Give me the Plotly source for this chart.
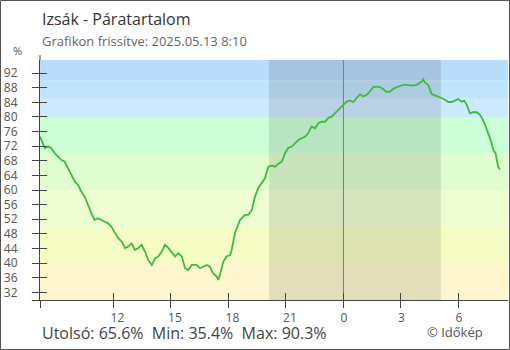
import plotly.graph_objects as go

# ---------------- data ----------------
times = [
    "2025-05-12 08:10", "2025-05-12 08:19", "2025-05-12 08:25", "2025-05-12 08:35", "2025-05-12 08:45",
    "2025-05-12 08:56", "2025-05-12 09:06", "2025-05-12 09:17", "2025-05-12 09:27", "2025-05-12 09:38",
    "2025-05-12 09:48", "2025-05-12 09:59", "2025-05-12 10:09", "2025-05-12 10:19", "2025-05-12 10:30",
    "2025-05-12 10:40", "2025-05-12 10:51", "2025-05-12 11:01", "2025-05-12 11:12", "2025-05-12 11:22",
    "2025-05-12 11:32", "2025-05-12 11:43", "2025-05-12 11:53", "2025-05-12 12:05", "2025-05-12 12:15",
    "2025-05-12 12:26", "2025-05-12 12:36", "2025-05-12 12:46", "2025-05-12 12:57", "2025-05-12 13:07",
    "2025-05-12 13:18", "2025-05-12 13:28", "2025-05-12 13:39", "2025-05-12 13:49", "2025-05-12 14:00",
    "2025-05-12 14:10", "2025-05-12 14:20", "2025-05-12 14:31", "2025-05-12 14:41", "2025-05-12 14:52",
    "2025-05-12 15:02", "2025-05-12 15:13", "2025-05-12 15:23", "2025-05-12 15:34", "2025-05-12 15:44",
    "2025-05-12 15:54", "2025-05-12 16:05", "2025-05-12 16:20", "2025-05-12 16:31", "2025-05-12 16:41",
    "2025-05-12 16:52", "2025-05-12 17:02", "2025-05-12 17:12", "2025-05-12 17:23", "2025-05-12 17:28",
    "2025-05-12 17:33", "2025-05-12 17:39", "2025-05-12 17:44", "2025-05-12 17:54", "2025-05-12 18:05",
    "2025-05-12 18:10", "2025-05-12 18:15", "2025-05-12 18:20", "2025-05-12 18:26", "2025-05-12 18:36",
    "2025-05-12 18:46", "2025-05-12 18:52", "2025-05-12 19:02", "2025-05-12 19:13", "2025-05-12 19:23",
    "2025-05-12 19:33", "2025-05-12 19:44", "2025-05-12 19:54", "2025-05-12 20:00", "2025-05-12 20:05",
    "2025-05-12 20:15", "2025-05-12 20:26", "2025-05-12 20:36", "2025-05-12 20:47", "2025-05-12 20:57",
    "2025-05-12 21:07", "2025-05-12 21:18", "2025-05-12 21:28", "2025-05-12 21:39", "2025-05-12 21:49",
    "2025-05-12 22:00", "2025-05-12 22:10", "2025-05-12 22:20", "2025-05-12 22:31", "2025-05-12 22:41",
    "2025-05-12 22:52", "2025-05-12 23:02", "2025-05-12 23:12", "2025-05-12 23:23", "2025-05-12 23:33",
    "2025-05-12 23:44", "2025-05-12 23:54", "2025-05-13 00:05", "2025-05-13 00:10", "2025-05-13 00:20",
    "2025-05-13 00:31", "2025-05-13 00:41", "2025-05-13 00:52", "2025-05-13 01:02", "2025-05-13 01:13",
    "2025-05-13 01:23", "2025-05-13 01:33", "2025-05-13 01:44", "2025-05-13 01:54", "2025-05-13 02:05",
    "2025-05-13 02:15", "2025-05-13 02:26", "2025-05-13 02:36", "2025-05-13 02:47", "2025-05-13 02:57",
    "2025-05-13 03:07", "2025-05-13 03:18", "2025-05-13 03:28", "2025-05-13 03:38", "2025-05-13 03:49",
    "2025-05-13 03:59", "2025-05-13 04:05", "2025-05-13 04:10", "2025-05-13 04:15", "2025-05-13 04:25",
    "2025-05-13 04:31", "2025-05-13 04:36", "2025-05-13 04:46", "2025-05-13 04:57", "2025-05-13 05:07",
    "2025-05-13 05:18", "2025-05-13 05:28", "2025-05-13 05:39", "2025-05-13 05:49", "2025-05-13 05:59",
    "2025-05-13 06:10", "2025-05-13 06:18", "2025-05-13 06:26", "2025-05-13 06:31", "2025-05-13 06:36",
    "2025-05-13 06:46", "2025-05-13 06:57", "2025-05-13 07:07", "2025-05-13 07:14", "2025-05-13 07:21",
    "2025-05-13 07:28", "2025-05-13 07:35", "2025-05-13 07:42", "2025-05-13 07:49", "2025-05-13 07:56",
    "2025-05-13 07:59", "2025-05-13 08:04", "2025-05-13 08:10",
]
humidity = [
    74.6, 72.8, 71.5, 71.9, 71.5, 70.1, 69.2, 68.2, 67.8, 66.0,
    64.1, 62.3, 61.4, 59.6, 58.2, 55.9, 53.6, 51.8, 52.3, 51.8,
    51.3, 50.9, 50.0, 48.2, 46.8, 45.9, 44.1, 44.5, 45.4, 43.6,
    44.1, 45.0, 43.1, 40.8, 39.5, 41.3, 41.8, 43.1, 45.0, 44.1,
    43.1, 41.8, 42.7, 41.8, 38.6, 38.1, 39.5, 39.5, 38.6, 39.0,
    39.5, 39.0, 37.2, 36.3, 35.4, 36.7, 39.0, 40.4, 41.8, 42.2,
    43.6, 46.3, 48.2, 49.5, 51.8, 52.7, 53.2, 53.2, 54.5, 58.2,
    60.5, 61.9, 63.2, 65.0, 66.4, 66.7, 66.4, 67.2, 67.8, 70.1,
    71.5, 71.9, 72.8, 73.7, 74.2, 74.6, 75.6, 77.4, 76.9, 78.3,
    78.7, 78.7, 79.7, 80.1, 81.0, 81.9, 82.8, 83.8, 84.2, 84.5,
    84.1, 85.2, 86.2, 85.6, 86.1, 87.0, 88.2, 88.3, 88.2, 87.6,
    86.8, 87.0, 87.7, 88.2, 88.5, 88.8, 88.8, 88.6, 88.6, 88.8,
    89.3, 89.7, 90.3, 89.4, 88.8, 87.4, 86.3, 85.9, 85.6, 85.2,
    84.7, 84.1, 84.1, 84.4, 84.9, 84.2, 84.5, 83.3, 81.9, 81.0,
    81.3, 81.3, 80.6, 79.7, 78.3, 76.9, 75.1, 73.3, 71.0, 70.1,
    68.7, 66.4, 65.6,
]

y_tick_values = [32, 36, 40, 44, 48, 52, 56, 60, 64, 68, 72, 76, 80, 84, 88, 92]
x_tick_values = ["2025-05-12 12:00", "2025-05-12 15:00", "2025-05-12 18:00", "2025-05-12 21:00",
                 "2025-05-13 00:00", "2025-05-13 03:00", "2025-05-13 06:00"]
x_tick_labels = ["12", "15", "18", "21", "0", "3", "6"]

band_edges = [29.9, 40, 50, 60, 70, 80, 85, 90, 95.6]
band_colors = ["#fdf6cf", "#f5fcc4", "#effdd2", "#e0fdd0", "#ccffd8", "#cde9fe", "#bfe4fd", "#b9dbfc"]

sunset = "2025-05-12 20:07"
sunrise = "2025-05-13 05:05"
midnight = "2025-05-13 00:00"
x_start = "2025-05-12 08:10"
x_end = "2025-05-13 08:35"

title = "Izsák - Páratartalom"
subtitle = "Grafikon frissítve: 2025.05.13 8:10"
stats = "Utolsó: 65.6%  Min: 35.4%  Max: 90.3%"
credit = "© Időkép"

# ---------------- layout geometry ----------------
W, H = 510, 350
ML, MR, MT, MB = 40, 2, 60, 50
PW, PH = W - ML - MR, H - MT - MB
FONT = "Open Sans, Noto Sans, DejaVu Sans, sans-serif"


def px(x):
    return (x - ML) / PW


def py(y):
    return (H - MB - y) / PH


fig = go.Figure()
fig.add_trace(go.Scatter(
    x=times, y=humidity, mode="lines",
    line=dict(color="#3dbb3d", width=1.8),
    hoverinfo="skip", showlegend=False,
))
# invisible trace so the overlay axes (inner tick halves) are drawn
fig.add_trace(go.Scatter(
    x=[times[0]], y=[humidity[0]], mode="markers", xaxis="x2", yaxis="y2",
    marker=dict(opacity=0), hoverinfo="skip", showlegend=False,
))

shapes = []
for i, c in enumerate(band_colors):
    shapes.append(dict(type="rect", xref="paper", yref="y", x0=0, x1=1,
                       y0=band_edges[i], y1=band_edges[i + 1],
                       fillcolor=c, line=dict(width=0), layer="below"))
shapes.append(dict(type="rect", xref="x", yref="paper", x0=sunset, x1=sunrise, y0=0, y1=1,
                   fillcolor="rgba(0,0,0,0.10)", line=dict(width=0), layer="below"))
shapes.append(dict(type="line", xref="x", yref="paper", x0=midnight, x1=midnight, y0=0, y1=1,
                   line=dict(color="#3a8fd4", width=1), layer="below"))
# y axis line stub above the plot area
shapes.append(dict(type="line", xref="paper", yref="paper", x0=0, x1=0, y0=1, y1=py(55),
                   line=dict(color="#444444", width=1)))
# outer image border
shapes.append(dict(type="rect", xref="paper", yref="paper",
                   x0=px(0.5), x1=px(W - 0.5), y0=py(H - 0.5), y1=py(0.5),
                   line=dict(color="#555555", width=1), fillcolor="rgba(0,0,0,0)"))

x_ticks_all = [x_start] + x_tick_values
x_text_all = [""] + [t if len(t) == 2 else t + "\u2007" for t in x_tick_labels]
y_ticks_all = [band_edges[0]] + y_tick_values
y_text_all = [""] + [str(v) for v in y_tick_values]

axis_common = dict(showgrid=False, zeroline=False, tickcolor="#444444", tickwidth=1, automargin=False)

fig.update_layout(
    width=W, height=H,
    margin=dict(l=ML, r=MR, t=MT, b=MB, pad=0, autoexpand=False),
    paper_bgcolor="white", plot_bgcolor="white",
    font=dict(family=FONT, color="#555555", size=12),
    showlegend=False,
    xaxis=dict(type="date", range=[x_start, x_end], tickmode="array",
               tickvals=x_ticks_all, ticktext=x_text_all,
               ticks="outside", ticklen=7, showline=True, linecolor="#444444", linewidth=1,
               tickfont=dict(size=12, color="#555555"), ticklabelshift=4, ticklabelstandoff=0,
               **axis_common),
    yaxis=dict(range=[band_edges[0], band_edges[-1]], tickmode="array",
               tickvals=y_ticks_all, ticktext=y_text_all,
               ticks="outside", ticklen=7, showline=True, linecolor="#444444", linewidth=1,
               tickfont=dict(size=12, color="#555555"), ticklabelstandoff=12,
               **axis_common),
    xaxis2=dict(type="date", overlaying="x", matches="x", tickmode="array",
                tickvals=x_ticks_all, ticks="inside", ticklen=7, showticklabels=False,
                showline=False, **axis_common),
    yaxis2=dict(overlaying="y", matches="y", tickmode="array",
                tickvals=y_ticks_all, ticks="inside", ticklen=7, showticklabels=False,
                showline=False, **axis_common),
    shapes=shapes,
    annotations=[
        dict(text=title, xref="paper", yref="paper", x=0, y=py(19), xanchor="left", yanchor="middle",
             showarrow=False, font=dict(size=16, color="#333333")),
        dict(text=subtitle, xref="paper", yref="paper", x=0, y=py(41), xanchor="left", yanchor="middle",
             showarrow=False, font=dict(size=13, color="#666666")),
        dict(text="%", xref="paper", yref="paper", x=px(17), y=py(51), xanchor="center", yanchor="middle",
             showarrow=False, font=dict(size=11, color="#555555")),
        dict(text=stats, xref="paper", yref="paper", x=0, y=py(333), xanchor="left", yanchor="middle",
             showarrow=False, font=dict(size=16, color="#444444")),
        dict(text=credit, xref="paper", yref="paper", x=px(425), y=py(332), xanchor="left", yanchor="middle",
             showarrow=False, font=dict(size=13, color="#555555")),
    ],
)

fig.write_html("out.html", config={"displayModeBar": False},
               post_script="document.body.style.margin='0';document.body.style.overflow='hidden';")
